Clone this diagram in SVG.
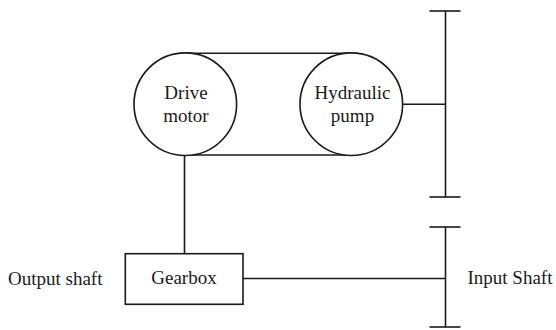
<svg xmlns="http://www.w3.org/2000/svg" width="556" height="330" viewBox="0 0 556 330">
<style>
.s{fill:none;stroke:#1a1a1a;stroke-width:1.6}
.n{fill:#fff;stroke:#1a1a1a;stroke-width:1.6}
text{font-family:'Liberation Serif','Times New Roman',Times,serif;font-size:19px;fill:#1a1a1a}
.t{text-anchor:middle}
</style>
<rect width="556" height="330" fill="#fff"/>
<g id="connectors">
<line class="s" x1="185.3" y1="53.3" x2="351.3" y2="53.3"/>
<line class="s" x1="185.3" y1="155" x2="351.3" y2="155"/>
<line class="s" x1="402.6" y1="104.2" x2="445.5" y2="104.2"/>
<line class="s" x1="184.5" y1="155" x2="184.5" y2="254"/>
<line class="s" x1="243" y1="278.5" x2="445.5" y2="278.5"/>
</g>
<g id="drive-motor">
<circle class="n" cx="185.3" cy="104.2" r="51.3"/>
<text class="t" x="186" y="98.5">Drive</text>
<text class="t" x="186" y="121.7">motor</text>
</g>
<g id="hydraulic-pump">
<circle class="n" cx="351.3" cy="104.2" r="51.3"/>
<text class="t" x="352.5" y="98.5">Hydraulic</text>
<text class="t" x="352.5" y="121.7">pump</text>
</g>
<g id="upper-shaft">
<line class="s" x1="445.5" y1="11" x2="445.5" y2="197"/>
<line class="s" x1="429.5" y1="11" x2="460.5" y2="11"/>
<line class="s" x1="429.5" y1="197" x2="460.5" y2="197"/>
</g>
<g id="input-shaft">
<line class="s" x1="445.5" y1="227" x2="445.5" y2="327"/>
<line class="s" x1="429.5" y1="227" x2="460.5" y2="227"/>
<line class="s" x1="429.5" y1="327" x2="460.5" y2="327"/>
<text x="467.5" y="284.3">Input Shaft</text>
</g>
<g id="gearbox">
<rect class="n" x="125.3" y="253.7" width="117.7" height="50.6"/>
<text class="t" x="184" y="284.3">Gearbox</text>
</g>
<g id="output-shaft">
<text x="8" y="285">Output shaft</text>
</g>
</svg>
